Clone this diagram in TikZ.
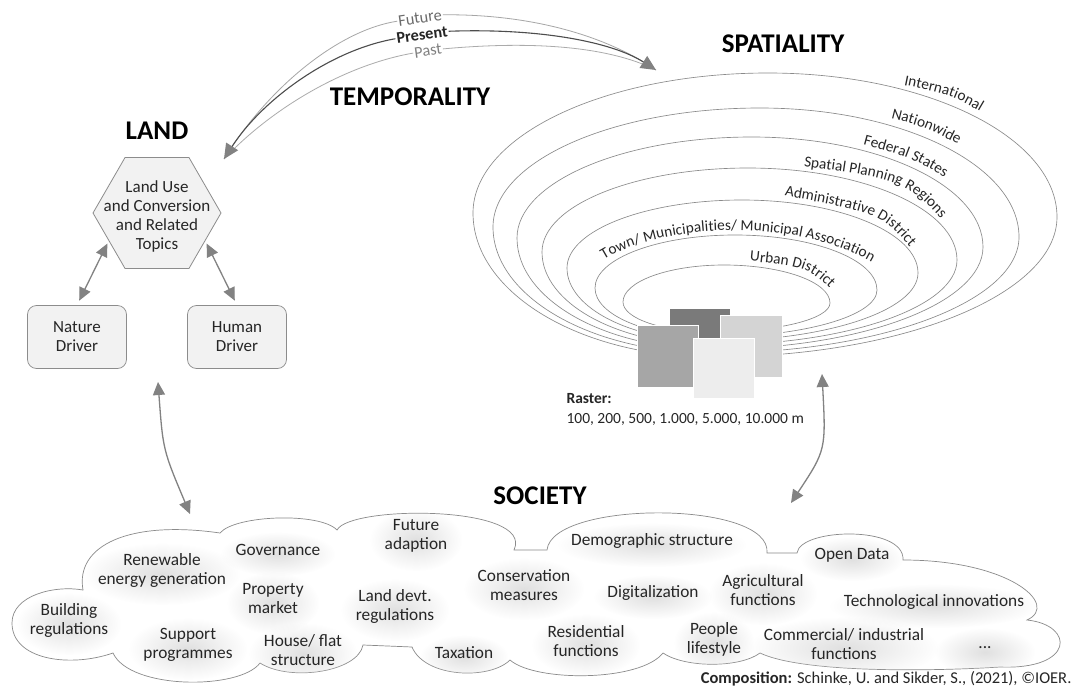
\documentclass[tikz,border=0pt]{standalone}
\usepackage{fontspec}
\setmainfont{Carlito}
\usetikzlibrary{arrows.meta,shapes.geometric,decorations.text,fadings}

\definecolor{arrowgray}{HTML}{828282}
\definecolor{ringgray}{HTML}{8A8A8A}
\definecolor{boxfill}{HTML}{F2F2F2}
\definecolor{boxline}{HTML}{8C8C8C}
\definecolor{txtgray}{HTML}{262626}
\definecolor{futgray}{HTML}{A6A6A6}
\definecolor{presgray}{HTML}{4D4D4D}
\definecolor{pastgray}{HTML}{ABABAB}

\newcommand\ringfont{\fontsize{15.3}{18}\selectfont\color{txtgray}}
\tikzfading[name=glowfade, inner color=transparent!0, outer color=transparent!100]

\tikzset{
  titletxt/.style={font=\fontsize{27}{30}\selectfont\bfseries, inner sep=0pt},
  hexnode/.style={regular polygon, regular polygon sides=6, minimum size=128pt,
    inner sep=0pt, draw=boxline, fill=boxfill, line width=0.8pt},
  landtxt/.style={align=center, font=\fontsize{17}{19}\selectfont, text=txtgray},
  driver/.style={rectangle, rounded corners=9pt, draw=boxline, fill=boxfill,
    line width=0.7pt, minimum width=99pt, minimum height=63pt, align=center,
    font=\fontsize{17}{19}\selectfont, text=txtgray},
  dblarrow/.style={draw=arrowgray, line width=1.3pt,
    {Triangle[length=13pt,width=12pt]}-{Triangle[length=13pt,width=12pt]}},
  timelbl/.style={font=\fontsize{16.3}{18}\selectfont, inner sep=1pt, rotate=8},
  timearc/.style={line width=0.8pt},
  timetip/.style={-{Triangle[length=15pt,width=14pt,color=arrowgray]}},
  ring/.style={draw=ringgray, line width=0.65pt},
  ringlbl/.style={decorate, decoration={text along path, text align=center, raise=1pt}},
  rastersq/.style={draw=white, line width=0.6pt},
  cloud/.style={draw=ringgray, fill=white, line width=0.7pt},
  socitem/.style={align=center, font=\fontsize{17.3}{19}\selectfont, text=txtgray, inner sep=1pt},
  glowfill/.style={fill=black!12, path fading=glowfade}
}

\def\soclist{renew/162/570/64/19/{Renewable\\energy generation},
  govern/278/550/43/10/{Governance},
  prop/273/599/32/19/{Property\\market},
  build/69/620/38/19/{Building\\regulations},
  support/188/645/45/19/{Support\\programmes},
  house/303/650/40/19/{House/ flat\\structure},
  future/416/536/32/19/{Future\\adaption},
  landdevt/395/606/40/19/{Land devt.\\regulations},
  conserv/524/585/46/19/{Conservation\\measures},
  digital/653/593/45/10/{Digitalization},
  demo/652/541/80/10/{Demographic structure},
  tax/464/653/30/10/{Taxation},
  resid/586/641/40/19/{Residential\\functions},
  people/714/639/26/19/{People\\lifestyle},
  opendata/852/555/37/10/{Open Data},
  agri/763/590/40/19/{Agricultural\\functions},
  techno/934/602/90/10/{Technological innovations},
  commerc/844/644/80/19/{Commercial/ industrial\\functions},
  etc/985/648/36/12/{...}}

\begin{document}
\begin{tikzpicture}[x=1pt,y=-1pt]
\useasboundingbox (0,0) rectangle (1077,688);
\fill[white] (0,0) rectangle (1077,688);

% titles
\node[titletxt] (temporality) at (410,97) {TEMPORALITY};
\node[titletxt] (spatiality) at (783,44) {SPATIALITY};
\node[titletxt] (land) at (157,131) {LAND};
\node[titletxt] (society) at (540,496) {SOCIETY};

% time lines
\coordinate (tleft) at (224,159);
\coordinate (tright) at (656,70);
\node[timelbl, text=black!58] (fut) at (420,18) {Future};
\node[timelbl, text=txtgray, font=\fontsize{16.3}{18}\selectfont\bfseries] (pres) at (422,35) {Present};
\node[timelbl, text=black!50] (past) at (428,51) {Past};
\draw[timearc, draw=futgray] (fut.west) .. controls (340,30) and (270,85) .. (tleft);
\draw[timearc, draw=futgray] (fut.east) .. controls (530,14) and (605,35) .. (tright);
\draw[timearc, draw=pastgray] (past.west) .. controls (345,65) and (272,108) .. (tleft);
\draw[timearc, draw=pastgray] (past.east) .. controls (540,40) and (612,48) .. (tright);
\draw[timearc, draw=presgray, line width=1.1pt, timetip] (pres.west) .. controls (330,50) and (262,100) .. (tleft);
\draw[timearc, draw=presgray, line width=1.1pt, timetip] (pres.east) .. controls (540,28) and (612,42) .. (tright);

% land
\node[hexnode] (hex) at (157,213) {};
\node[landtxt] (hextxt) at (157,216) {Land Use\\and Conversion\\and Related\\Topics};
\node[driver] (nature) at (77,337) {Nature\\Driver};
\node[driver] (human) at (237,337) {Human\\Driver};
\draw[dblarrow, shorten <=3pt, shorten >=5pt] (hex.210) -- (nature.north);
\draw[dblarrow, shorten <=3pt, shorten >=5pt] (hex.330) -- (human.north);

% spatiality rings
\foreach \xt/\yt/\xr/\yr/\xb/\yb/\xl/\yl in {768/73/1057/217/712/357/473/213,
    760/108/1019/237/712/353/493/227, 752/137/983/247/712/349/517/238,
    748/168/957/260/712/345/542/252, 742/200/918/273/712/341/567/268,
    735/235/877/290/712/337/595/288, 724/265/830/303/712/332/623/302}
  \draw[ring] (\xt,\yt) .. controls ({\xt+0.552*(\xr-\xt)},\yt) and (\xr,{\yr-0.552*(\yr-\yt)}) .. (\xr,\yr)
    .. controls (\xr,{\yr+0.552*(\yb-\yr)}) and ({\xb+0.552*(\xr-\xb)},\yb) .. (\xb,\yb)
    .. controls ({\xb-0.552*(\xb-\xl)},\yb) and (\xl,{\yl+0.552*(\yb-\yl)}) .. (\xl,\yl)
    .. controls (\xl,{\yl-0.552*(\yl-\yt)}) and ({\xt-0.552*(\xt-\xl)},\yt) .. (\xt,\yt) -- cycle;

\path[ringlbl, decoration={text={|\ringfont|International}}] (893,84) .. controls (952,96) .. (989,118);
\path[ringlbl, decoration={text={|\ringfont|Nationwide}}] (885,118) .. controls (922,127) .. (963,148);
\path[ringlbl, decoration={text={|\ringfont|Federal States}}] (855,143) .. controls (910,158) .. (951,182);
\path[ringlbl, decoration={text={|\ringfont|Spatial Planning Regions}}] (795,166) .. controls (905,181) .. (946,226);
\path[ringlbl, decoration={text={|\ringfont|Administrative District}}] (774,195) .. controls (881,214) .. (916,256);
\path[ringlbl, decoration={text={|\ringfont|Town/ Municipalities/ Municipal Association}}] (594,268) .. controls (645,225) and (800,213) .. (882,270);
\path[ringlbl, decoration={text={|\ringfont|Urban District}}] (740,261) .. controls (808,268) .. (836,296);

% raster
\filldraw[rastersq, fill=black!52] (669,308) rectangle (730,370);
\filldraw[rastersq, fill=black!35] (637,325) rectangle (698,387);
\filldraw[rastersq, fill=black!17] (720,315) rectangle (782,377);
\filldraw[rastersq, fill=black!7] (693,338) rectangle (754,398);
\node[anchor=west, font=\fontsize{15.5}{18}\selectfont\bfseries, text=txtgray] (rasterhead) at (563,399) {Raster:};
\node[anchor=west, font=\fontsize{15.5}{18}\selectfont, text=txtgray] (rastervals) at (563,419) {100, 200, 500, 1.000, 5.000, 10.000 m};

% society cloud
\path[cloud, save path=\cloudpath] (83,590) .. controls (75,545) and (130,520) .. (220,533)
  .. controls (235,515) and (320,512) .. (337,530)
  .. controls (350,505) and (535,505) .. (514,550)
  -- (547,550)
  .. controls (552,500) and (772,500) .. (767,553)
  -- (797,553)
  .. controls (800,528) and (905,525) .. (903,560)
  .. controls (1010,560) and (1060,605) .. (1027,620)
  .. controls (1075,625) and (1075,670) .. (1000,667)
  .. controls (920,672) and (800,672) .. (760,653)
  .. controls (740,668) and (685,668) .. (663,653)
  .. controls (640,682) and (535,682) .. (510,660)
  .. controls (490,680) and (425,678) .. (412,647)
  -- (363,645)
  .. controls (358,672) and (290,682) .. (260,663)
  .. controls (240,690) and (130,690) .. (113,653)
  .. controls (70,668) and (12,660) .. (12,623)
  .. controls (12,595) and (55,585) .. (83,590) -- cycle;

\begin{scope}
\clip[use path=\cloudpath];
\foreach \nm/\x/\y/\w/\h/\txt in \soclist
  \fill[glowfill] (\x,\y+4) ellipse [x radius={(\w+14)*1pt}, y radius={(\h+12)*1pt}];
\end{scope}
\foreach \nm/\x/\y/\w/\h/\txt in \soclist
  \node[socitem] (\nm) at (\x,\y) {\txt};

% links to society
\coordinate (landlink) at (158,382);
\coordinate (socleft) at (190,514);
\coordinate (spatlink) at (822,374);
\coordinate (socright) at (791,503);
\draw[dblarrow] (landlink) .. controls (163,450) .. (socleft);
\draw[dblarrow] (spatlink) .. controls (826,450) .. (socright);

\node[anchor=east, font=\fontsize{16.5}{19}\selectfont, text=txtgray] (credit) at (1075,679)
  {\textbf{Composition:} Schinke, U. and Sikder, S., (2021), \textcopyright IOER.};
\end{tikzpicture}
\end{document}
